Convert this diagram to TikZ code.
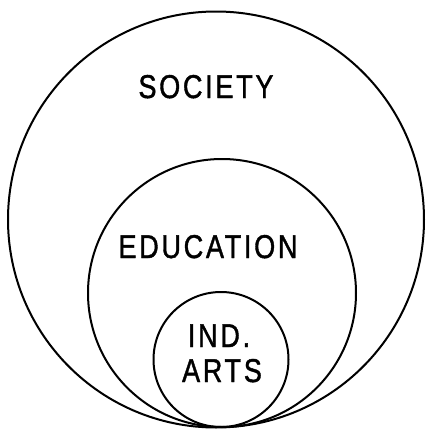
\documentclass[tikz,border=0pt]{standalone}
\usepackage{fontspec}
\newfontfamily\ringfont[LetterSpace=10, FakeBold=1.4]{Liberation Sans}
\usepackage{tikz}

\tikzset{
  ring/.style={circle, draw, line width=2pt, inner sep=0pt, outer sep=0pt},
  tag/.style={anchor=base, inner sep=0pt, xscale=0.82, font=\ringfont\fontsize{33}{33}\selectfont}
}

\begin{document}
\begin{tikzpicture}[x=1pt, y=-1pt]
        \useasboundingbox (0,0) rectangle (427,429);

        % Circles, all touching at the bottom
        \node[ring, minimum size=416pt] (society) at (216,219.5) {};
        \node[ring, minimum size=268pt] (education) at (222,293) {};
        \node[ring, minimum size=135pt] (indarts) at (221,359.5) {};

        % Labels
        \node[tag] (societylbl) at (206,98) {SOCIETY};
        \node[tag] (educationlbl) at (208,258) {EDUCATION};
        \node[tag] (indlbl) at (219,347) {IND.};
        \node[tag] (artslbl) at (222,382) {ARTS};
    \end{tikzpicture}
\end{document}
